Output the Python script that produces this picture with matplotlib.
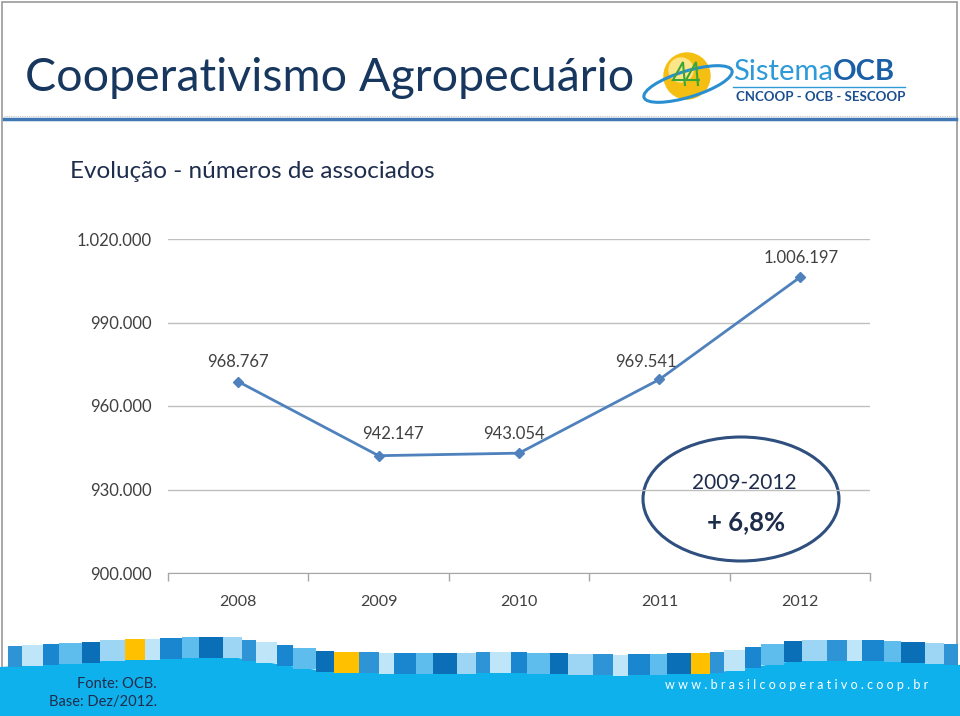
import numpy as np
import matplotlib
matplotlib.use("Agg")
import matplotlib.pyplot as plt
from matplotlib.patches import Ellipse, Rectangle, Polygon, Circle

# data
years = ["2008", "2009", "2010", "2011", "2012"]
associados = [968767, 942147, 943054, 969541, 1006197]
point_labels = ["968.767", "942.147", "943.054", "969.541", "1.006.197"]
y_ticks = [900000, 930000, 960000, 990000, 1020000]
y_tick_labels = ["900.000", "930.000", "960.000", "990.000", "1.020.000"]

FONT = "Lato"
NAVY = "#1f2d4d"
LINE_BLUE = "#4f81bd"

fig = plt.figure(figsize=(9.6, 7.16), dpi=100)

# decoration layer in pixel coordinates
deco = fig.add_axes([0, 0, 1, 1])
deco.set_xlim(0, 960)
deco.set_ylim(716, 0)
deco.axis("off")

# frame and header line
deco.add_patch(Rectangle((2, 2), 955, 712, fill=False, ec="#9a9a9a", lw=1.2))
deco.plot([4, 956], [116, 116], color="#c8c8c8", lw=0.8, ls=(0, (1, 1)))
deco.plot([4, 956], [118.5, 118.5], color="#3f78b4", lw=2.5)

deco.text(25, 91, "Cooperativismo Agropecuário", fontsize=33.5, family=FONT,
          color="#17375e", va="baseline", ha="left")

# logo (rough)
deco.add_patch(Circle((687, 76), 23, color="#f5be12", zorder=2))
deco.add_patch(Circle((681, 70), 12, color="#fde58a", zorder=2))
deco.add_patch(Ellipse((688, 84), 92, 26, angle=-17, fill=False, ec="#2a8fd0", lw=2.2, zorder=3))
for cx in (680, 693):
    deco.add_patch(Polygon([(cx + 5, 86), (cx + 3, 62), (cx - 7, 80), (cx + 7, 80)],
                           closed=False, fill=False, ec="#3aa635", lw=1.5, zorder=4))
t1 = deco.text(733, 80, "Sistema", fontsize=21, family=FONT, color="#2e9ad8", va="baseline")
fig.canvas.draw()
bb = t1.get_window_extent()
x_ocb = bb.x1 * 960 / fig.bbox.width
deco.text(x_ocb, 80, "OCB", fontsize=21, family=FONT, weight="bold", color="#1b5fa6",
          va="baseline")
deco.plot([733, 905], [87, 87], color="#2e9ad8", lw=1)
deco.text(736, 101, "CNCOOP - OCB - SESCOOP", fontsize=9.5, family=FONT, weight="bold",
          color="#1b4f8f", va="baseline")

deco.text(70, 172, "Evolução - números de associados", fontsize=17.5, family=FONT,
          color=NAVY, va="center", ha="left")

# bottom band
wave_x = [0, 120, 225, 330, 430, 520, 620, 720, 800, 880, 960]
wave_y = [647, 640, 636, 652, 653, 652, 655, 652, 640, 640, 645]
xs = np.arange(0, 961, 2)
top = np.interp(xs, wave_x, wave_y)
band_top = top + 20
deco.add_patch(Polygon(list(zip(xs, band_top)) + [(960, 716), (0, 716)],
                       closed=True, color="#0fb1ec", lw=0))
tile_colors = ["#2f94d6", "#9dd6f4", "#0b6fb8", "#5fbdee", "#1a86cf", "#bfe5f8"]
yellow_at = [6, 17, 35, 56]
x0 = 8
i = 0
while x0 < 958:
    w = 14 + (i * 7) % 12
    ty = np.interp(x0 + w / 2, wave_x, wave_y)
    c = "#ffc000" if i in yellow_at else tile_colors[(i * 5) % len(tile_colors)]
    deco.add_patch(Rectangle((x0, ty), min(w, 958 - x0), 21, color=c, lw=0))
    x0 += w
    i += 1

deco.text(157, 684, "Fonte: OCB.", fontsize=10.5, family=FONT, color=NAVY,
          ha="right", va="center")
deco.text(157, 702, "Base: Dez/2012.", fontsize=10.5, family=FONT, color=NAVY,
          ha="right", va="center")
deco.text(928, 685, " ".join("www.brasilcooperativo.coop.br"), fontsize=9,
          family=FONT, color="white", ha="right", va="center")

# chart
ax = fig.add_axes([168 / 960, 1 - 573 / 716, (870 - 168) / 960, (573 - 239) / 716])
ax.set_facecolor("none")
xpos = np.arange(len(years))
ax.plot(xpos, associados, color=LINE_BLUE, lw=2, marker="D", ms=5.5, zorder=3)
# label nudges (points), as placed in the original
label_dx = [0, 10, -4, -10, 1]
label_dy = [8, 10, 8, 7, 8]
for x, y, lab, dx, dy in zip(xpos, associados, point_labels, label_dx, label_dy):
    ax.annotate(lab, (x, y), xytext=(dx, dy), textcoords="offset points",
                ha="center", va="bottom", fontsize=12, family=FONT, color="#404040")

ax.set_xlim(-0.5, len(years) - 0.5)
ax.set_ylim(y_ticks[0], y_ticks[-1])
ax.set_yticks(y_ticks)
ax.set_yticklabels(y_tick_labels, family=FONT, fontsize=12, color="#404040")
ax.set_xticks(xpos)
ax.set_xticklabels(years, family=FONT, fontsize=11.5, color="#404040")
ax.set_xticks(np.arange(-0.5, len(years)), minor=True)
ax.tick_params(axis="x", which="major", length=0, pad=16)
ax.tick_params(axis="x", which="minor", length=6, color="#a6a6a6", width=1)
ax.tick_params(axis="y", length=0, pad=12)
ax.grid(axis="y", color="#bfbfbf", lw=1)
for side in ["top", "right", "left"]:
    ax.spines[side].set_visible(False)
ax.spines["bottom"].set_color("#a6a6a6")
ax.set_axisbelow(True)

# callout
deco.add_patch(Ellipse((741, 499), 196, 124, fill=False, ec="#2f4f7f", lw=2.2, zorder=5))
deco.text(744, 483, "2009-2012", fontsize=15, family=FONT, color=NAVY,
          ha="center", va="center", zorder=6)
deco.text(746, 522, "+ 6,8%", fontsize=18.5, family=FONT, weight="bold", color=NAVY,
          ha="center", va="center", zorder=6)

fig.savefig("out.png", dpi=100)
